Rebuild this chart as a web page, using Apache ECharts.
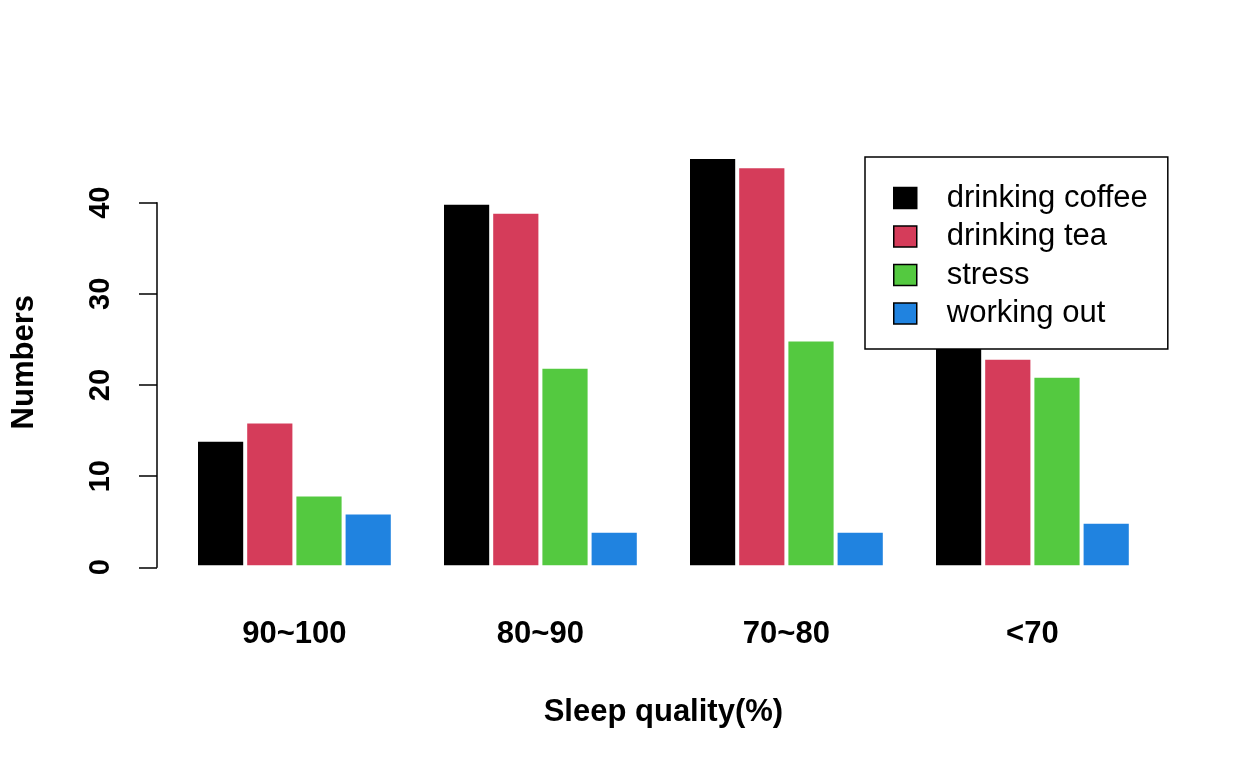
<!DOCTYPE html>
<html>
<head>
<meta charset="utf-8">
<script src="https://cdn.jsdelivr.net/npm/echarts@6/dist/echarts.min.js"></script>
<style>
html,body{margin:0;padding:0;background:#fff;}
#chart{width:1248px;height:768px;}
</style>
</head>
<body>
<div id="chart"></div>
<script>
const categories = ['90~100', '80~90', '70~80', '<70'];
const seriesNames = ['drinking coffee', 'drinking tea', 'stress', 'working out'];
const coffee = [14, 40, 45, 30];
const tea = [16, 39, 44, 23];
const stress = [8, 22, 25, 21];
const workingOut = [6, 4, 4, 5];
const yTicks = [0, 10, 20, 30, 40];
const colors = ['#000000', '#D53C5A', '#54C940', '#2083E0'];

const FONT = 'Liberation Sans, Arial, Helvetica, sans-serif';
const values = [coffee, tea, stress, workingOut];

const chart = echarts.init(document.getElementById('chart'), null, {renderer: 'canvas'});
chart.setOption({
  animation: false,
  backgroundColor: '#ffffff',
  grid: [
    {left: 171.4, right: 92.6, top: 157.1, bottom: 200.7, containLabel: false},
    {left: 157, width: 10, top: 202.7, bottom: 200.7, containLabel: false}
  ],
  xAxis: [
    {
      type: 'category', gridIndex: 0, data: categories,
      axisLine: {show: false}, axisTick: {show: false}, splitLine: {show: false},
      axisLabel: {fontFamily: FONT, fontSize: 31, fontWeight: 'bold', color: '#000', margin: 52},
      name: 'Sleep quality(%)', nameLocation: 'middle', nameGap: 130,
      nameTextStyle: {fontFamily: FONT, fontSize: 31, fontWeight: 'bold', color: '#000'}
    },
    {type: 'value', gridIndex: 1, show: false, min: 0, max: 1}
  ],
  yAxis: [
    {
      type: 'value', gridIndex: 0, min: 0, max: 45,
      axisLine: {show: false}, axisTick: {show: false}, axisLabel: {show: false}, splitLine: {show: false},
      name: 'Numbers', nameLocation: 'middle', nameGap: 131,
      nameTextStyle: {fontFamily: FONT, fontSize: 31, fontWeight: 'bold', color: '#000'}
    },
    {
      type: 'value', gridIndex: 1, min: yTicks[0], max: yTicks[yTicks.length - 1], interval: 10,
      axisLine: {show: true, lineStyle: {color: '#000', width: 1.5}},
      axisTick: {show: true, length: 18, lineStyle: {color: '#000', width: 1.5}},
      axisLabel: {rotate: 90, fontFamily: FONT, fontSize: 29, fontWeight: 'bold', color: '#000', margin: 42},
      splitLine: {show: false}
    }
  ],
  legend: {
    orient: 'vertical',
    left: 865, top: 157,
    padding: [25.5, 20, 20, 28],
    itemWidth: 23, itemHeight: 21, itemGap: 7.5,
    icon: 'rect',
    backgroundColor: '#ffffff',
    borderColor: '#000', borderWidth: 1.5,
    z: 20,
    itemStyle: {borderColor: '#000', borderWidth: 1.5},
    textStyle: {fontFamily: FONT, fontSize: 31, color: '#000', padding: [0, 0, 0, 25]},
    data: seriesNames,
    selectedMode: false
  },
  series: seriesNames.map((n, i) => ({
    name: n, type: 'bar', xAxisIndex: 0, yAxisIndex: 0,
    data: values[i],
    barGap: '0%', barCategoryGap: '20%',
    itemStyle: {color: colors[i], borderColor: '#ffffff', borderWidth: 2},
    emphasis: {disabled: true}
  }))
});
</script>
</body>
</html>
